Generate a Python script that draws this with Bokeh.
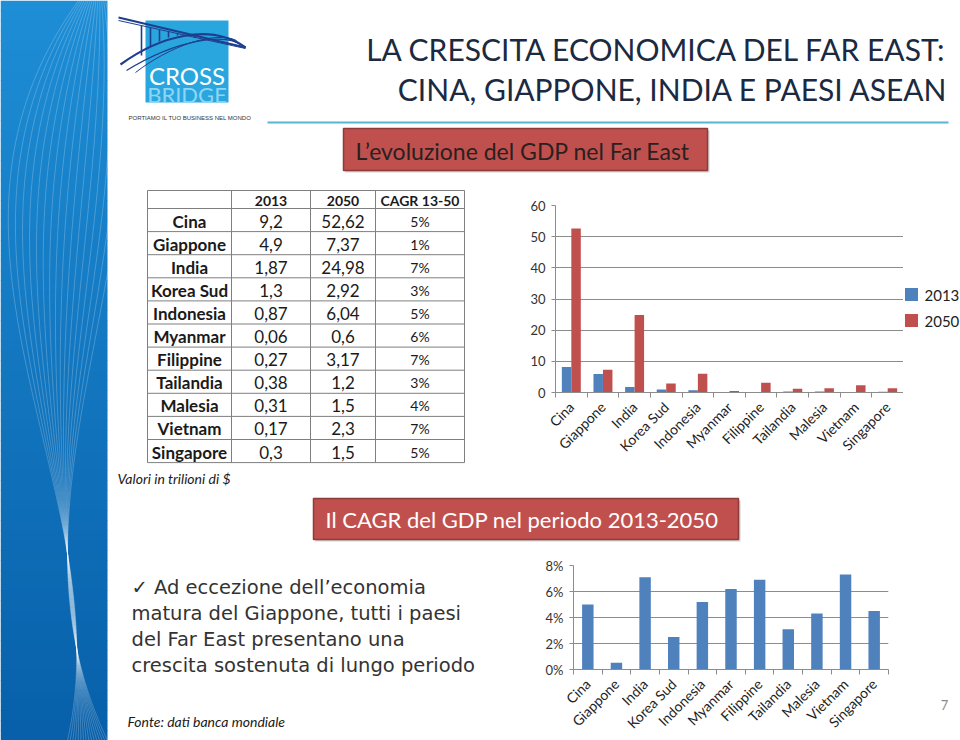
import numpy as np
from bokeh.plotting import figure
from bokeh.layouts import row, column
from bokeh.models import Range1d, FixedTicker, NumeralTickFormatter, ColumnDataSource
from bokeh.transform import dodge
from bokeh.core.properties import value
from bokeh.embed import file_html
from bokeh.resources import INLINE

# ---------------- data ----------------
countries = ["Cina", "Giappone", "India", "Korea Sud", "Indonesia", "Myanmar",
             "Filippine", "Tailandia", "Malesia", "Vietnam", "Singapore"]
table_2013 = [9.2, 4.9, 1.87, 1.3, 0.87, 0.06, 0.27, 0.38, 0.31, 0.17, 0.3]
table_2050 = [52.62, 7.37, 24.98, 2.92, 6.04, 0.6, 3.17, 1.2, 1.5, 2.3, 1.5]
table_cagr = [5, 1, 7, 3, 5, 6, 7, 3, 4, 7, 5]
table_headers = ["2013", "2050", "CAGR 13-50"]

chart_2013 = [8.2, 5.9, 1.8, 1.0, 0.75, 0.05, 0.2, 0.35, 0.3, 0.15, 0.27]
chart_2050 = [52.6, 7.3, 24.9, 2.9, 6.0, 0.45, 3.1, 1.2, 1.4, 2.3, 1.4]
chart_cagr = [0.050, 0.0052, 0.071, 0.025, 0.052, 0.062, 0.069, 0.031, 0.043, 0.073, 0.045]
gdp_ticks = [0, 10, 20, 30, 40, 50, 60]
cagr_ticks = [0, 0.02, 0.04, 0.06, 0.08]
series_labels = ["2013", "2050"]

BLUE = "#4f81bd"
RED = "#c0504d"
FONT = "Lato"
n = len(countries)
OV = "overlay"   # unclipped render level for free-standing texts/shapes


def panel(x0, x1, y0, y1, fy0=None, fy1=None):
    """Plain drawing surface in slide pixel units; optional frame band fy0..fy1."""
    fy0 = y0 if fy0 is None else fy0
    fy1 = y1 if fy1 is None else fy1
    p = figure(width=x1 - x0, height=y1 - y0, x_range=Range1d(x0, x1),
               y_range=Range1d(fy1, fy0), output_backend="svg",
               toolbar_location=None, x_axis_location=None,
               y_axis_location=None, min_border=0,
               min_border_left=0, min_border_right=0,
               min_border_top=fy0 - y0, min_border_bottom=y1 - fy1)
    p.grid.visible = False
    p.outline_line_color = None
    p.background_fill_color = "white"
    p.border_fill_color = "white"
    return p


# ---------------- left blue band ----------------
band = panel(0, 108, 0, 740)
ys = np.linspace(0, 740, 75)
c_top = np.array([30, 142, 214])
c_bot = np.array([8, 96, 170])
cols = []
for t in np.linspace(0, 1, 74):
    c = (c_top * (1 - t) + c_bot * t).astype(int)
    cols.append("#%02x%02x%02x" % tuple(c))
band.quad(left=0, right=107, top=ys[:-1], bottom=ys[1:] + 0.5, fill_color=cols,
          line_color=None)
xs_l, ys_l = [], []
for i in range(16):
    f = i / 15
    ctrl_y = np.array([0, 300, 553, 740])
    ctrl_x = np.array([78 + 29 * f, 14 + 88 * f, 67, 67 + 40 * f])
    coef = np.polyfit(ctrl_y, ctrl_x, 3)
    yy = np.linspace(0, 740, 90)
    xs_l.append(list(np.polyval(coef, yy)))
    ys_l.append(list(yy))
band.multi_line(xs_l, ys_l, line_color="white", line_alpha=0.28, line_width=0.8)

# ---------------- header ----------------
hdr = panel(108, 960, 0, 182)
hdr.quad(left=145, right=228, top=20, bottom=102, fill_color="#2aa6de", line_color=None)
hdr.bezier(x0=[120, 126, 135], y0=[64, 70, 72], x1=[245, 245, 236], y1=[47, 47, 40],
           cx0=[160, 175, 170], cy0=[35, 40, 45], cx1=[210, 225, 215], cy1=[22, 30, 30],
           line_color="#1e3f8f", line_width=[2.2, 1.2, 1.0])
hdr.segment(x0=[118, 118], y0=[17, 20], x1=[245, 245], y1=[47, 48],
            line_color="#1e3f8f", line_width=[2.2, 1.0])
hx = [141, 150, 159, 168, 177, 186, 194]
hdr.segment(x0=hx, y0=[20 + (x - 118) * 0.23 for x in hx], x1=hx,
            y1=[55, 46, 41, 37, 35, 34, 34], line_color="#1e3f8f", line_width=1.6)
hdr.text(x=[186.5], y=[75], text=["CROSS"], text_align="center", text_baseline="middle",
         text_font=value(FONT), text_font_size="24px", text_color="white")
hdr.text(x=[186.5], y=[94], text=["BRIDGE"], text_align="center", text_baseline="middle",
         text_font=value(FONT), text_font_size="22px", text_color="#8fd6f6")
hdr.text(x=[128], y=[117], text=["PORTIAMO IL TUO BUSINESS NEL MONDO"], text_align="left",
         text_baseline="middle", text_font=value("Liberation Sans"), text_font_size="6px",
         text_color="#333333")
hdr.text(x=[948, 948], y=[48, 88],
         text=["LA CRESCITA ECONOMICA DEL FAR EAST:", "CINA, GIAPPONE, INDIA E PAESI ASEAN"],
         text_align="right", text_baseline="middle",
         text_font=value(FONT), text_font_size="30px", text_color="#1b2a40")
hdr.segment(x0=[267], y0=[122], x1=[948], y1=[122], line_color="#5ab4d6", line_width=2)
hdr.quad(left=345, right=709, top=130, bottom=172, fill_color="#999999",
         fill_alpha=0.45, line_color=None)
hdr.quad(left=343, right=707, top=128, bottom=170, fill_color=RED,
         line_color="#8e3b39", line_width=1.5)
hdr.text(x=[355], y=[150], text=["L\u2019evoluzione del GDP nel Far East"],
         text_align="left", text_baseline="middle", text_font=value(FONT),
         text_font_size="23px", text_color="#2a2020")

# ---------------- table (frame band matches chart 1: 205..392) ----------------
tab = panel(108, 500, 182, 490, 205, 392)
col_edges = [147, 231, 310, 375, 464]
row_top, head_h, row_h = 190, 18, 23.1
h_y = [row_top] + [row_top + head_h + k * row_h for k in range(n + 1)]
tab.segment(x0=[col_edges[0]] * len(h_y), y0=h_y, x1=[col_edges[-1]] * len(h_y), y1=h_y,
            line_color="#7f7f7f", line_width=1, level=OV)
tab.segment(x0=col_edges, y0=[h_y[0]] * 5, x1=col_edges, y1=[h_y[-1]] * 5,
            line_color="#7f7f7f", line_width=1, level=OV)
ccx = [(col_edges[i] + col_edges[i + 1]) / 2 for i in range(4)]
rcy = [(h_y[k] + h_y[k + 1]) / 2 + 1 for k in range(n + 1)]
tab.text(x=ccx[1:], y=[rcy[0]] * 3, text=table_headers, text_align="center",
         text_baseline="middle", text_font=value(FONT), text_font_size="14px",
         text_font_style="bold", text_color="#1a1a1a", level=OV)
tab.text(x=[ccx[0]] * n, y=rcy[1:], text=countries, text_align="center",
         text_baseline="middle", text_font=value(FONT), text_font_size="17px",
         text_font_style="bold", text_color="#1a1a1a", level=OV)
fmt = lambda v: ("%g" % v).replace(".", ",")
tab.text(x=[ccx[1]] * n, y=rcy[1:], text=[fmt(v) for v in table_2013], text_align="center",
         text_baseline="middle", text_font=value(FONT), text_font_size="17px",
         text_color="#1a1a1a", level=OV)
tab.text(x=[ccx[2]] * n, y=rcy[1:], text=[fmt(v) for v in table_2050], text_align="center",
         text_baseline="middle", text_font=value(FONT), text_font_size="17px",
         text_color="#1a1a1a", level=OV)
tab.text(x=[ccx[3]] * n, y=rcy[1:], text=["%d%%" % v for v in table_cagr],
         text_align="center", text_baseline="middle", text_font=value(FONT),
         text_font_size="14px", text_color="#1a1a1a", level=OV)
tab.text(x=[117], y=[478], text=["Valori in trilioni di $"], text_align="left",
         text_baseline="middle", text_font=value(FONT), text_font_size="14px",
         text_font_style="italic", text_color="#1a1a1a", level=OV)


def style_chart(p, yticks):
    p.outline_line_color = None
    p.background_fill_color = "white"
    p.border_fill_color = "white"
    p.xgrid.visible = False
    p.ygrid.ticker = FixedTicker(ticks=yticks)
    p.ygrid.grid_line_color = "#8c8c8c"
    p.ygrid.grid_line_width = 1
    ya = p.yaxis[0]
    ya.ticker = FixedTicker(ticks=yticks)
    ya.axis_line_color = "#8c8c8c"
    ya.major_tick_line_color = "#8c8c8c"
    ya.major_tick_out = 4
    ya.major_tick_in = 0
    ya.minor_tick_line_color = None
    ya.major_label_text_font = FONT
    ya.major_label_text_font_size = "13px"
    ya.major_label_text_color = "#333333"
    ya.major_label_standoff = 6
    xa = p.xaxis[0]
    xa.ticker = FixedTicker(ticks=list(range(n)),
                            minor_ticks=[i - 0.5 for i in range(n + 1)])
    xa.major_label_overrides = {i: c for i, c in enumerate(countries)}
    xa.major_label_orientation = np.pi / 4
    xa.axis_line_color = "#8c8c8c"
    xa.major_tick_line_color = None
    xa.major_tick_out = 0
    xa.major_tick_in = 0
    xa.minor_tick_line_color = "#8c8c8c"
    xa.minor_tick_out = 5
    xa.minor_tick_in = 0
    xa.major_label_text_font = FONT
    xa.major_label_text_font_size = "14px"
    xa.major_label_text_color = "#222222"
    xa.major_label_standoff = 7


# ---------------- chart 1: GDP ----------------
c1 = figure(width=403, height=308, x_range=Range1d(-0.5, n - 0.5), y_range=Range1d(0, 60),
            output_backend="svg", toolbar_location=None, min_border_left=55,
            min_border_right=0, min_border_top=23, min_border_bottom=98)
src1 = ColumnDataSource(dict(x=list(range(n)), y13=chart_2013, y50=chart_2050))
c1.vbar(x=dodge("x", -0.15, range=c1.x_range), top="y13", width=0.3, source=src1,
        fill_color=BLUE, line_color=None)
c1.vbar(x=dodge("x", 0.15, range=c1.x_range), top="y50", width=0.3, source=src1,
        fill_color=RED, line_color=None)
style_chart(c1, gdp_ticks)

# legend panel beside chart 1 (same frame band)
leg = panel(903, 960, 182, 490, 205, 392)
leg.rect(x=[911, 911], y=[294, 320], width=13, height=13, fill_color=[BLUE, RED],
         line_color=None, level=OV)
leg.text(x=[924, 924], y=[295, 321], text=series_labels, text_align="left",
         text_baseline="middle", text_font=value(FONT), text_font_size="15px",
         text_color="#222222", level=OV)

# ---------------- banner ----------------
ban = panel(108, 960, 490, 545)
ban.quad(left=315, right=740, top=500, bottom=541, fill_color="#999999",
         fill_alpha=0.45, line_color=None)
ban.quad(left=313, right=738, top=498, bottom=539, fill_color=RED,
         line_color="#8e3b39", line_width=1.5)
ban.text(x=[325], y=[519], text=["Il CAGR del GDP nel periodo 2013-2050"],
         text_align="left", text_baseline="middle", text_font=value(FONT),
         text_font_size="22px", text_color="white")

# ---------------- bottom text (frame band matches chart 2: 565..670) ----------------
txt = panel(108, 520, 545, 740, 565, 670)
lines = ["\u2713 Ad eccezione dell\u2019economia",
         "matura del Giappone, tutti i paesi",
         "del Far East presentano una",
         "crescita sostenuta di lungo periodo"]
txt.text(x=[131] * 4, y=[587, 613, 640, 666], text=lines, text_align="left",
         text_baseline="middle", text_font=value("DejaVu Sans"), text_font_size="19.5px",
         text_color="#333333", level=OV)
txt.text(x=[127], y=[723], text=["Fonte: dati banca mondiale"], text_align="left",
         text_baseline="middle", text_font=value(FONT), text_font_size="14px",
         text_font_style="italic", text_color="#1a1a1a", level=OV)

# ---------------- chart 2: CAGR ----------------
c2 = figure(width=390, height=195, x_range=Range1d(-0.5, n - 0.5),
            y_range=Range1d(0, 0.08), output_backend="svg", toolbar_location=None,
            min_border_left=53, min_border_right=22, min_border_top=20,
            min_border_bottom=70)
src2 = ColumnDataSource(dict(x=list(range(n)), c=chart_cagr))
c2.vbar(x="x", top="c", width=0.4, source=src2, fill_color=BLUE, line_color=None)
style_chart(c2, cagr_ticks)
c2.yaxis[0].formatter = NumeralTickFormatter(format="0%")

# ---------------- page number ----------------
pn = panel(910, 960, 545, 740, 565, 670)
pn.text(x=[944], y=[706], text=["7"], text_align="center", text_baseline="middle",
        text_font=value(FONT), text_font_size="13px", text_color="#8c8c8c", level=OV)

layout = row(band, column(hdr, row(tab, c1, leg), ban, row(txt, c2, pn)))
open("out.html", "w").write(file_html(layout, INLINE))
